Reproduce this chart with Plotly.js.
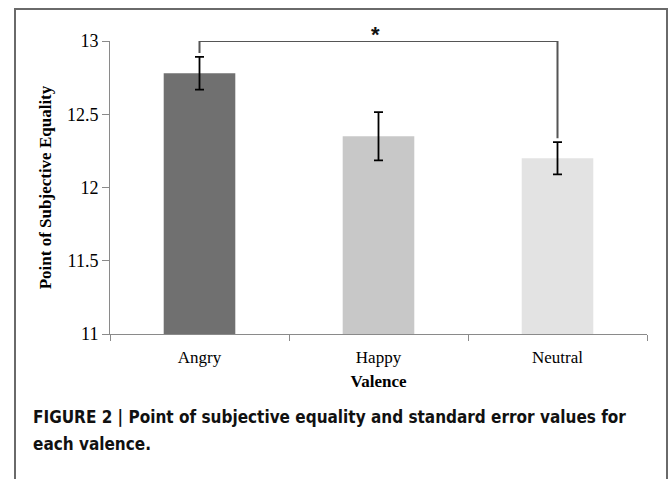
<!DOCTYPE html>
<html>
<head>
<meta charset="utf-8">
<script src="https://cdn.plot.ly/plotly-3.0.1.min.js"></script>
<style>
  html, body { margin: 0; padding: 0; background: #fff; }
  #chart { width: 669px; height: 479px; }
</style>
</head>
<body>
<div id="chart"></div>
<script>
// Data
const categories = ['Angry', 'Happy', 'Neutral'];
const pseValues = [12.78, 12.35, 12.20];
const stdErrors = [0.112, 0.165, 0.11];
const barColors = ['#707070', '#c8c8c8', '#e3e3e3'];
const yTicks = [11, 11.5, 12, 12.5, 13];

// Significance bracket (Angry vs Neutral)
const bracketX = ['Angry', 'Angry', 'Neutral', 'Neutral'];
const bracketY = [12.918, 13, 13, 12.336];

const captionLines = [
  'FIGURE 2 | Point of subjective equality and standard error values for',
  'each valence.'
];

const serif = '"Liberation Serif", "Times New Roman", serif';
const captionFont = '"Liberation Sans Narrow", "DejaVu Sans Condensed", "Arial Narrow", "Liberation Sans", sans-serif';

// plot area in pixels: x 110..647, y 41..334
const L = 110, R = 22, T = 41, B = 145;
const W = 669 - L - R, H = 479 - T - B;
const px = v => (v - L) / W;
const py = v => (479 - B - v) / H;

const traces = [
  {
    type: 'bar',
    x: categories,
    y: pseValues,
    width: 0.4,
    marker: { color: barColors, line: { width: 0 } },
    error_y: { type: 'data', array: stdErrors, visible: true, color: '#000', thickness: 1.8, width: 4.5 },
    hoverinfo: 'skip',
    showlegend: false
  },
  {
    type: 'scatter',
    mode: 'lines',
    x: bracketX,
    y: bracketY,
    line: { color: '#555', width: 2 },
    cliponaxis: false,
    hoverinfo: 'skip',
    showlegend: false
  }
];

const layout = {
  width: 669,
  height: 479,
  margin: { l: L, r: R, t: T, b: B },
  paper_bgcolor: '#fff',
  plot_bgcolor: '#fff',
  showlegend: false,
  xaxis: {
    type: 'category',
    categoryorder: 'array',
    categoryarray: categories,
    showline: true,
    linecolor: '#8a8a8a',
    linewidth: 1,
    ticks: 'outside',
    tickson: 'boundaries',
    ticklen: 6,
    tickcolor: '#8a8a8a',
    showgrid: false,
    ticklabelstandoff: 8,
    tickfont: { family: serif, size: 17, color: '#000' },
    title: { text: '<b>Valence</b>', font: { family: serif, size: 17, color: '#000' }, standoff: 8 }
  },
  yaxis: {
    range: [11, 13],
    tickvals: yTicks,
    ticktext: yTicks.map(String),
    showline: true,
    linecolor: '#8a8a8a',
    linewidth: 1,
    ticks: 'outside',
    ticklen: 7,
    tickcolor: '#8a8a8a',
    showgrid: false,
    zeroline: false,
    tickfont: { family: serif, size: 18, color: '#000' },
    title: { text: '<b>Point of Subjective Equality</b>', font: { family: serif, size: 17, color: '#000' }, standoff: 10 }
  },
  shapes: [
    {
      type: 'rect', xref: 'paper', yref: 'paper',
      x0: px(15), x1: px(667), y0: py(485), y1: py(9),
      line: { color: '#6a6a6a', width: 2 },
      fillcolor: 'rgba(0,0,0,0)',
      layer: 'below'
    }
  ],
  annotations: [
    {
      x: 'Happy', y: 13, xref: 'x', yref: 'y',
      text: '<b>*</b>', showarrow: false,
      xanchor: 'center', yanchor: 'bottom', yshift: -8, xshift: -3,
      font: { family: '"Liberation Sans", Arial, sans-serif', size: 22, color: '#111' }
    },
    {
      x: px(31), y: py(405), xref: 'paper', yref: 'paper',
      xanchor: 'left', yanchor: 'top', align: 'left',
      showarrow: false,
      text: '<b>' + captionLines[0] + '</b>',
      font: { family: captionFont, size: 17, color: '#111' }
    },
    {
      x: px(31), y: py(432), xref: 'paper', yref: 'paper',
      xanchor: 'left', yanchor: 'top', align: 'left',
      showarrow: false,
      text: '<b>' + captionLines[1] + '</b>',
      font: { family: captionFont, size: 17, color: '#111' }
    }
  ]
};

Plotly.newPlot('chart', traces, layout, { displayModeBar: false, staticPlot: true });
</script>
</body>
</html>
